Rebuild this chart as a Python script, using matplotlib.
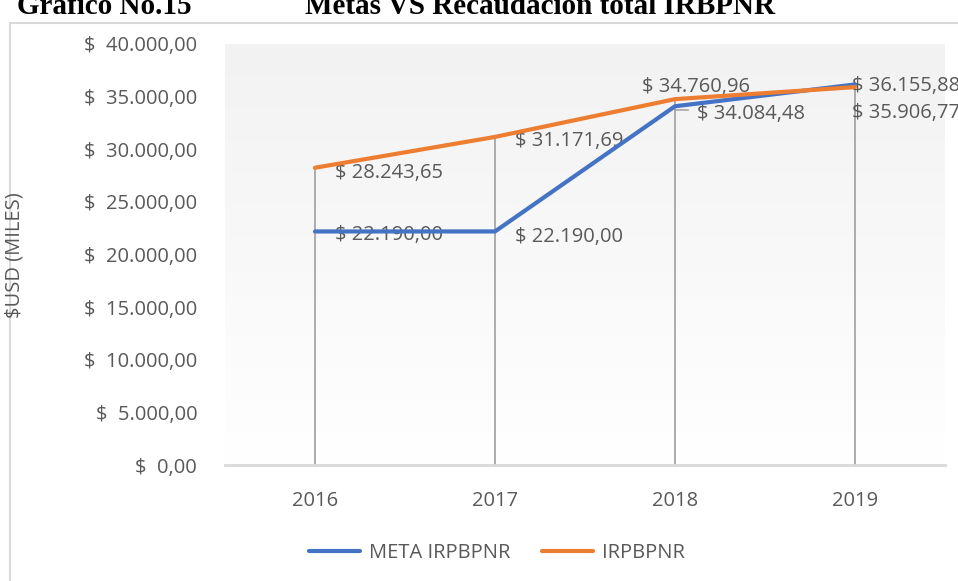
import numpy as np
import matplotlib
matplotlib.use("Agg")
import matplotlib.pyplot as plt
from matplotlib.patches import Rectangle
from matplotlib.transforms import offset_copy

# data
years = ["2016", "2017", "2018", "2019"]
meta = [22190.00, 22190.00, 34084.48, 36155.88]
recaudacion = [28243.65, 31171.69, 34760.96, 35906.77]
series_names = ["META IRPBPNR", "IRPBPNR"]
y_ticks = [0, 5000, 10000, 15000, 20000, 25000, 30000, 35000, 40000]

BLUE = "#4472C4"
ORANGE = "#ED7D31"
TEXT = "#595959"
FS = 14.5

plt.rcParams["font.family"] = ["Open Sans", "DejaVu Sans"]


def money(v, sep=" "):
    s = f"{v:,.2f}".replace(",", "X").replace(".", ",").replace("X", ".")
    return "$" + sep + s


fig = plt.figure(figsize=(9.58, 5.81), dpi=100)

# chart frame
fig.patches.append(Rectangle((10 / 958, -0.1), 1.2, 1.1 - 23 / 581,
                             transform=fig.transFigure, fill=False,
                             edgecolor="#d9d9d9", linewidth=1.5))

ax = fig.add_axes([225 / 958, 1 - 465 / 581, 720 / 958, 421 / 581])
x = np.arange(len(years))
ax.set_xlim(-0.5, len(years) - 0.5)
ax.set_ylim(0, 40000)

# plot area gradient (white at top -> light grey at bottom)
grad = np.linspace(1, 0, 256).reshape(-1, 1)
ax.imshow(grad, extent=[-0.5, len(years) - 0.5, 0, 40000], aspect="auto",
          cmap=matplotlib.colors.LinearSegmentedColormap.from_list(
              "g", ["#f2f2f2", "#ffffff"]), origin="lower", zorder=0)

# drop lines
tops = np.maximum(meta, recaudacion)
ax.vlines(x, 0, tops, color="#a6a6a6", linewidth=1.3, zorder=1)

ax.plot(x, meta, color=BLUE, linewidth=3, solid_capstyle="round",
        label=series_names[0], zorder=3)
ax.plot(x, recaudacion, color=ORANGE, linewidth=3, solid_capstyle="round",
        label=series_names[1], zorder=3)

# data labels (offsets in points), drawn under the lines like the source
meta_off = [(14.5, -2.8), (14.5, -4.0), (16, -5.5), (-2.5, -1.0)]
rec_off = [(14.5, -3.5), (14.5, -3.0), (-24, 8.5), (-2.5, -19)]
for i in range(len(years)):
    ax.annotate(money(meta[i]), (x[i], meta[i]), xytext=meta_off[i],
                textcoords="offset points", ha="left", va="center",
                fontsize=FS, color=TEXT, annotation_clip=False, zorder=2.5)
    ax.annotate(money(recaudacion[i]), (x[i], recaudacion[i]),
                xytext=rec_off[i], textcoords="offset points",
                ha="left", va="center", fontsize=FS, color=TEXT,
                annotation_clip=False, zorder=2.5)

# short leader line for the 2018 meta label
lead = offset_copy(ax.transData, fig=fig, x=0, y=-3, units="points")
ax.plot([x[2], x[2] + 0.07], [meta[2], meta[2]], color="#a6a6a6",
        linewidth=1.2, transform=lead, zorder=2)

ax.set_xticks(x)
ax.set_xticklabels(years)
ax.set_yticks(y_ticks)
ax.set_yticklabels([money(v, "  ") for v in y_ticks])
ax.tick_params(axis="both", length=0, labelsize=FS, labelcolor=TEXT)
ax.tick_params(axis="y", pad=20)
ax.tick_params(axis="x", pad=19)
for side in ["top", "right", "left"]:
    ax.spines[side].set_visible(False)
ax.spines["bottom"].set_color("#d9d9d9")
ax.spines["bottom"].set_linewidth(2)
ax.spines["bottom"].set_zorder(2)

fig.text(15 / 958, 1 - 255 / 581, "$USD (MILES)", rotation=90, ha="center",
         va="center", fontsize=FS, color=TEXT)

# titles (partly cut at top like the source)
fig.text(17 / 958, 1 - 14 / 581, "Gráfico No.15", fontsize=21,
         fontweight="bold", family="Liberation Serif", ha="left",
         va="baseline")
fig.text(305 / 958, 1 - 14 / 581, "Metas VS Recaudación total IRBPNR",
         fontsize=21, fontweight="bold", family="Liberation Serif",
         ha="left", va="baseline")

fig.legend(loc="center", bbox_to_anchor=(497 / 958, 1 - 553 / 581), ncol=2,
           frameon=False, fontsize=FS, labelcolor=TEXT, handlelength=2.5,
           handletextpad=0.45, columnspacing=1.6)

fig.savefig("out.png", dpi=100)
plt.close(fig)
